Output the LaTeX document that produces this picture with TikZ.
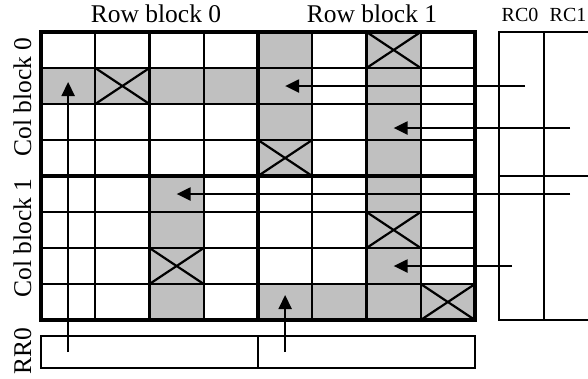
\documentclass[tikz,border=0pt]{standalone}
\usepackage{fontspec}
\setmainfont{Liberation Serif}
\usetikzlibrary{arrows.meta}
\pgfdeclarelayer{background}
\pgfsetlayers{background,main}
\definecolor{cellgray}{RGB}{192,192,192}
\begin{document}
\begin{tikzpicture}[x=1pt,y=-1pt,
  cell/.style={draw, line width=2.2pt, minimum width=54.25pt, minimum height=36pt,
    inner sep=0pt, outer sep=0pt, anchor=north west},
  blockline/.style={line width=4pt},
  cross/.style={line width=2.2pt},
  box/.style={draw, line width=1.8pt, inner sep=0pt, outer sep=0pt, anchor=north west},
  flow/.style={line width=2.2pt, -{Triangle[length=14pt,width=13pt]}},
  biglabel/.style={font=\fontsize{25.5}{30}\selectfont, inner sep=0pt},
  smalllabel/.style={font=\fontsize{20}{24}\selectfont, inner sep=0pt},
]
\useasboundingbox (0,0) rectangle (588,378);
\clip (0,0) rectangle (588,378);

% 8x8 grid of cells
\foreach \r in {0,...,7}
  \foreach \c in {0,...,7}
    \node[cell] (c\r\c) at ({41+\c*54.25},{32+\r*36}) {};

% shaded cells
\begin{pgfonlayer}{background}
  \foreach \rc in {04,06,10,11,12,13,14,16,24,26,34,36,42,46,52,56,62,66,72,74,75,76,77}
    \fill[cellgray] (c\rc.north west) rectangle (c\rc.south east);
\end{pgfonlayer}

% crossed-out cells
\foreach \rc in {06,11,34,56,62,77}
  \draw[cross] (c\rc.north west) -- (c\rc.south east)
               (c\rc.north east) -- (c\rc.south west);

% block boundaries
\draw[blockline] (c00.north west) rectangle (c77.south east);
\draw[blockline] (c04.north west) -- (c74.south west);
\draw[blockline] (c40.north west) -- (c47.north east);

% row-count columns
\node[box, minimum width=45pt, minimum height=144pt] (rc0a) at (499,32) {};
\node[box, minimum width=45pt, minimum height=144pt] (rc0b) at (499,176) {};
\node[box, minimum width=50pt, minimum height=144pt] (rc1a) at (544,32) {};
\node[box, minimum width=50pt, minimum height=144pt] (rc1b) at (544,176) {};

% row-result bar
\node[box, minimum width=217pt, minimum height=32pt] (rr0a) at (41,336) {};
\node[box, minimum width=217pt, minimum height=32pt] (rr0b) at (258,336) {};

% labels
\node[biglabel, anchor=base] (rb0) at (156,22) {Row block 0};
\node[biglabel, anchor=base] (rb1) at (372,22) {Row block 1};
\node[biglabel, anchor=base, rotate=90] (cb0) at (31,97) {Col block 0};
\node[biglabel, anchor=base, rotate=90] (cb1) at (31,238) {Col block 1};
\node[biglabel, anchor=base, rotate=90] (rrl) at (31,351) {RR0};
\node[smalllabel, anchor=base] (lrc0) at (520,21) {RC0};
\node[smalllabel, anchor=base] (lrc1) at (568,21) {RC1};

% arrow sources
\coordinate (s1) at (c10.center |- rr0a.center);
\coordinate (s2) at (c74.center |- rr0b.center);
\coordinate (s3) at (525,86);
\coordinate (s4) at (570,128);
\coordinate (s5) at (570,194);
\coordinate (s6) at (512,266);

% arrows
\draw[flow] (s1) -- ([yshift=4pt]c10.center);
\draw[flow] (s2) -- ([yshift=7pt]c74.center);
\draw[flow] (s3) -- (c14.center);
\draw[flow] (s4) -- ([yshift=-6pt]c26.center);
\draw[flow] (s5) -- (c42.center);
\draw[flow] (s6) -- (c66.center);
\end{tikzpicture}
\end{document}
